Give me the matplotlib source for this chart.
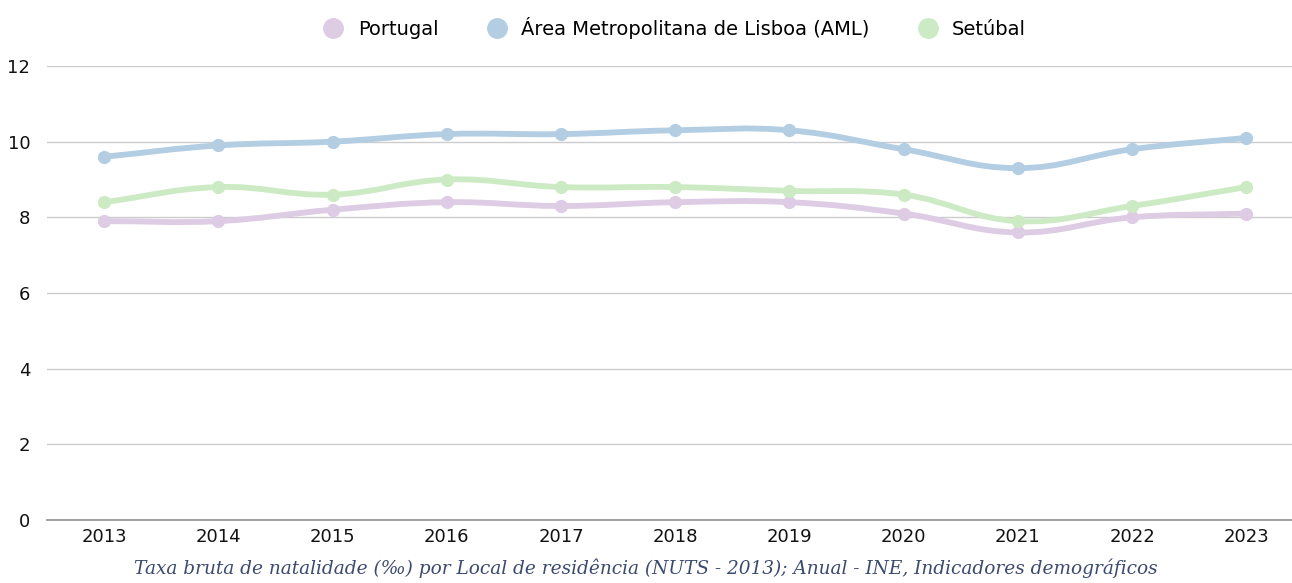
import numpy as np
import matplotlib
matplotlib.use("Agg")
import matplotlib.pyplot as plt
from matplotlib.path import Path
from matplotlib.patches import PathPatch
from matplotlib.lines import Line2D

years = [2013, 2014, 2015, 2016, 2017, 2018, 2019, 2020, 2021, 2022, 2023]
portugal = [7.9, 7.9, 8.2, 8.4, 8.3, 8.4, 8.4, 8.1, 7.6, 8.0, 8.1]
aml = [9.6, 9.9, 10.0, 10.2, 10.2, 10.3, 10.3, 9.8, 9.3, 9.8, 10.1]
setubal = [8.4, 8.8, 8.6, 9.0, 8.8, 8.8, 8.7, 8.6, 7.9, 8.3, 8.8]
names = ["Portugal", "Área Metropolitana de Lisboa (AML)", "Setúbal"]
colors = ["#decbe4", "#b3cde3", "#ccebc5"]
caption = "Taxa bruta de natalidade (‰) por Local de residência (NUTS - 2013); Anual - INE, Indicadores demográficos"

PX_X, PX_Y = 114.2, 37.8  # pixels per unit, for spline tension distances


def spline_path(xs, ys, t=0.4):
    xs = np.asarray(xs, float)
    ys = np.asarray(ys, float)
    n = len(xs)
    cp_prev, cp_next = [], []
    for i in range(n):
        p = (xs[max(i - 1, 0)], ys[max(i - 1, 0)])
        c = (xs[i], ys[i])
        nx = (xs[min(i + 1, n - 1)], ys[min(i + 1, n - 1)])
        d01 = np.hypot((c[0] - p[0]) * PX_X, (c[1] - p[1]) * PX_Y)
        d12 = np.hypot((nx[0] - c[0]) * PX_X, (nx[1] - c[1]) * PX_Y)
        tot = d01 + d12
        s01 = d01 / tot if tot else 0
        s12 = d12 / tot if tot else 0
        fa, fb = t * s01, t * s12
        cp_prev.append((c[0] - fa * (nx[0] - p[0]), c[1] - fa * (nx[1] - p[1])))
        cp_next.append((c[0] + fb * (nx[0] - p[0]), c[1] + fb * (nx[1] - p[1])))
    verts = [(xs[0], ys[0])]
    codes = [Path.MOVETO]
    for i in range(n - 1):
        verts += [cp_next[i], cp_prev[i + 1], (xs[i + 1], ys[i + 1])]
        codes += [Path.CURVE4] * 3
    return Path(verts, codes)


fig = plt.figure(figsize=(12.92, 5.83), dpi=100)
ax = fig.add_axes([47 / 1292, 1 - 520 / 583, 1 - 47 / 1292, 454 / 583])

series = [portugal, aml, setubal]
handles = []
for vals, name, col in zip(series, names, colors):
    patch = PathPatch(spline_path(years, vals), facecolor="none", edgecolor=col,
                      lw=4.2, capstyle="round", joinstyle="round", zorder=3)
    ax.add_patch(patch)
    ax.plot(years, vals, "o", color=col, ms=8.5, zorder=4)
    handles.append(Line2D([], [], marker="o", ls="none", color=col, ms=14))

ax.set_xlim(2012.5, 2023.4)
ax.set_ylim(0, 12)
ax.set_yticks(range(0, 13, 2))
ax.set_xticks(years)
ax.grid(axis="y", color="#cccccc", lw=1)
ax.set_axisbelow(True)
for s in ["top", "right", "left"]:
    ax.spines[s].set_visible(False)
ax.spines["bottom"].set_color("#999999")
ax.spines["bottom"].set_linewidth(1.3)
ax.tick_params(length=0, labelsize=13, colors="#111111")
ax.tick_params(axis="y", pad=12)
ax.tick_params(axis="x", pad=6)

fig.legend(handles, names, loc="center", bbox_to_anchor=(670 / 1292, 1 - 28 / 583), ncol=3,
           frameon=False, fontsize=14, handletextpad=0.25, columnspacing=2.0)

fig.text(0.5, 1 - 574 / 583, caption, ha="center", va="baseline", style="italic",
         family="DejaVu Serif", fontsize=13.3, color="#3b4a6e")

fig.savefig("out.png", dpi=100)
